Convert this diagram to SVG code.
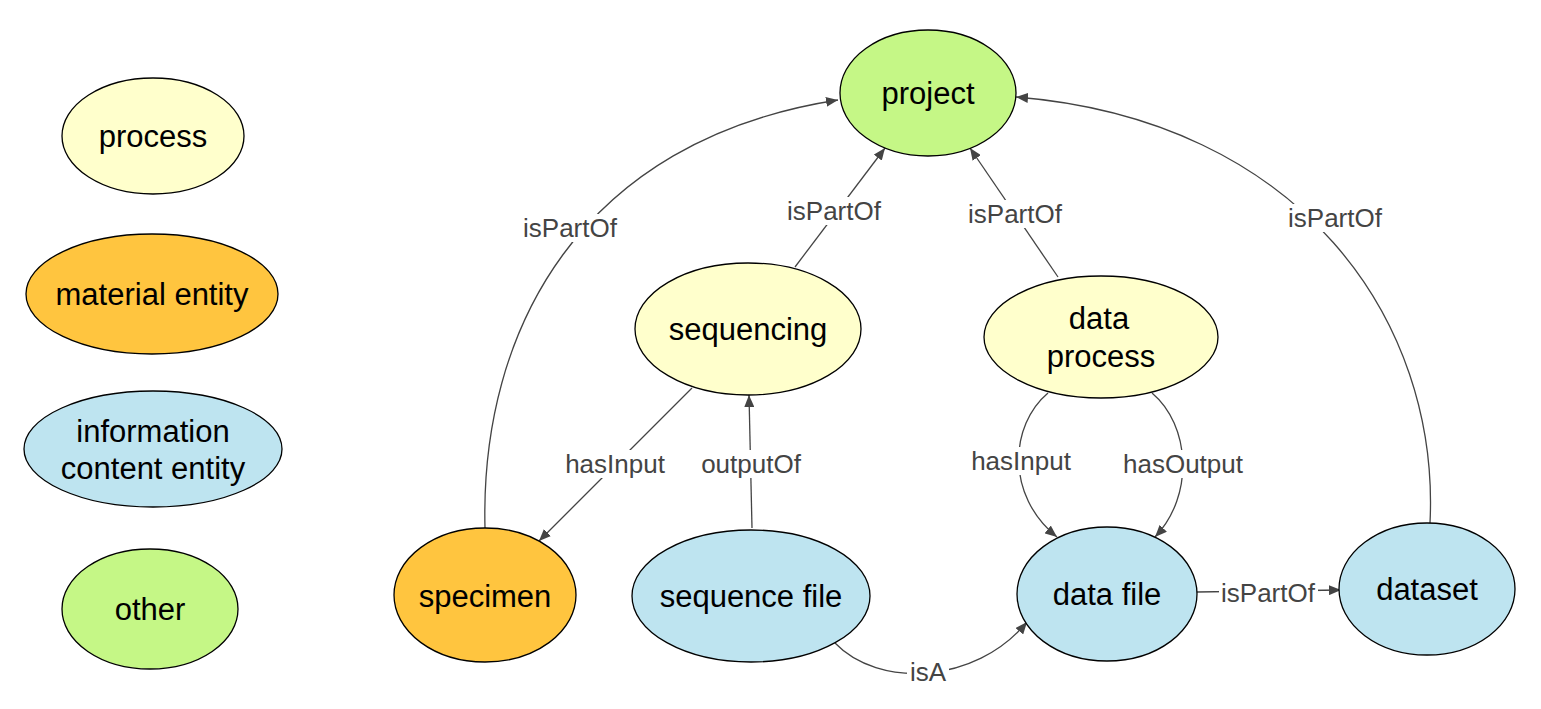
<svg xmlns="http://www.w3.org/2000/svg" width="1541" height="709" viewBox="0 0 1541 709">
<defs>
<style>
.n{stroke:#000;stroke-width:1.3}
.process{fill:#FFFFCC}
.material{fill:#FFC53F}
.info{fill:#BEE4F0}
.other{fill:#C5F786}
.t{font-family:"Liberation Sans",Arial,sans-serif;font-size:31px;fill:#000;text-anchor:middle}
.e{fill:none;stroke:#444;stroke-width:1.3}
.lb{fill:#fff}
.l{font-family:"Liberation Sans",Arial,sans-serif;font-size:26px;fill:#444;text-anchor:middle}
</style>
<marker id="arr" viewBox="0 0 12 10" markerWidth="12" markerHeight="10" refX="12" refY="5" orient="auto" markerUnits="userSpaceOnUse">
<path d="M0,0 L12,5 L0,10 z" fill="#444"/>
</marker>
</defs>
<rect width="1541" height="709" fill="#fff"/>

<g id="legend">
<g id="legend-process"><ellipse class="n process" cx="153" cy="136" rx="91" ry="58"/><text class="t" x="153" y="147">process</text></g>
<g id="legend-material"><ellipse class="n material" cx="152" cy="294" rx="126" ry="60"/><text class="t" x="152" y="305">material entity</text></g>
<g id="legend-info"><ellipse class="n info" cx="153" cy="449" rx="129" ry="58"/><text class="t" x="153" y="442">information</text><text class="t" x="153" y="479">content entity</text></g>
<g id="legend-other"><ellipse class="n other" cx="150" cy="609" rx="88" ry="60"/><text class="t" x="150" y="620">other</text></g>
</g>

<g id="connectors">
<path class="e" d="M485,528 C480,330 580,140 838,100" marker-end="url(#arr)"/>
<path class="e" d="M795,267 L885,148" marker-end="url(#arr)"/>
<path class="e" d="M1058,277 L970,148" marker-end="url(#arr)"/>
<path class="e" d="M1430,523 C1440,320 1300,120 1016,97" marker-end="url(#arr)"/>
<path class="e" d="M692,388 L539,541" marker-end="url(#arr)"/>
<path class="e" d="M752,528 L749,395" marker-end="url(#arr)"/>
<path class="e" d="M1048,393 C1010,425 1005,495 1057,537" marker-end="url(#arr)"/>
<path class="e" d="M1152,393 C1190,425 1195,495 1155,537" marker-end="url(#arr)"/>
<path class="e" d="M835,643 C878,688 975,685 1027,622" marker-end="url(#arr)"/>
<path class="e" d="M1197,592 L1341,590" marker-end="url(#arr)"/>

<rect class="lb" x="520" y="214" width="101" height="28"/><text class="l" x="570" y="237">isPartOf</text>
<rect class="lb" x="784" y="197" width="101" height="28"/><text class="l" x="834" y="220">isPartOf</text>
<rect class="lb" x="965" y="200" width="101" height="28"/><text class="l" x="1015" y="223">isPartOf</text>
<rect class="lb" x="1285" y="204" width="101" height="28"/><text class="l" x="1335" y="227">isPartOf</text>
<rect class="lb" x="563" y="450" width="105" height="28"/><text class="l" x="615" y="473">hasInput</text>
<rect class="lb" x="699" y="450" width="105" height="28"/><text class="l" x="751" y="473">outputOf</text>
<rect class="lb" x="969" y="447" width="105" height="28"/><text class="l" x="1021" y="470">hasInput</text>
<rect class="lb" x="1122" y="450" width="123" height="28"/><text class="l" x="1183" y="473">hasOutput</text>
<rect class="lb" x="907" y="658" width="42" height="28"/><text class="l" x="928" y="681">isA</text>
<rect class="lb" x="1219" y="579" width="99" height="28"/><text class="l" x="1268" y="602">isPartOf</text>
</g>

<g id="node-project"><ellipse class="n other" cx="928" cy="93" rx="88" ry="63"/><text class="t" x="928" y="104">project</text></g>
<g id="node-sequencing"><ellipse class="n process" cx="748" cy="329" rx="113" ry="66"/><text class="t" x="748" y="340">sequencing</text></g>
<g id="node-dataprocess"><ellipse class="n process" cx="1101" cy="337" rx="117" ry="61"/><text class="t" x="1099" y="329">data</text><text class="t" x="1101" y="367">process</text></g>
<g id="node-specimen"><ellipse class="n material" cx="485" cy="595" rx="91" ry="67"/><text class="t" x="485" y="607">specimen</text></g>
<g id="node-sequencefile"><ellipse class="n info" cx="751" cy="596" rx="119" ry="66"/><text class="t" x="751" y="607">sequence file</text></g>
<g id="node-datafile"><ellipse class="n info" cx="1107" cy="594" rx="90" ry="67"/><text class="t" x="1107" y="605">data file</text></g>
<g id="node-dataset"><ellipse class="n info" cx="1427" cy="589" rx="88" ry="66"/><text class="t" x="1427" y="600">dataset</text></g>
</svg>
